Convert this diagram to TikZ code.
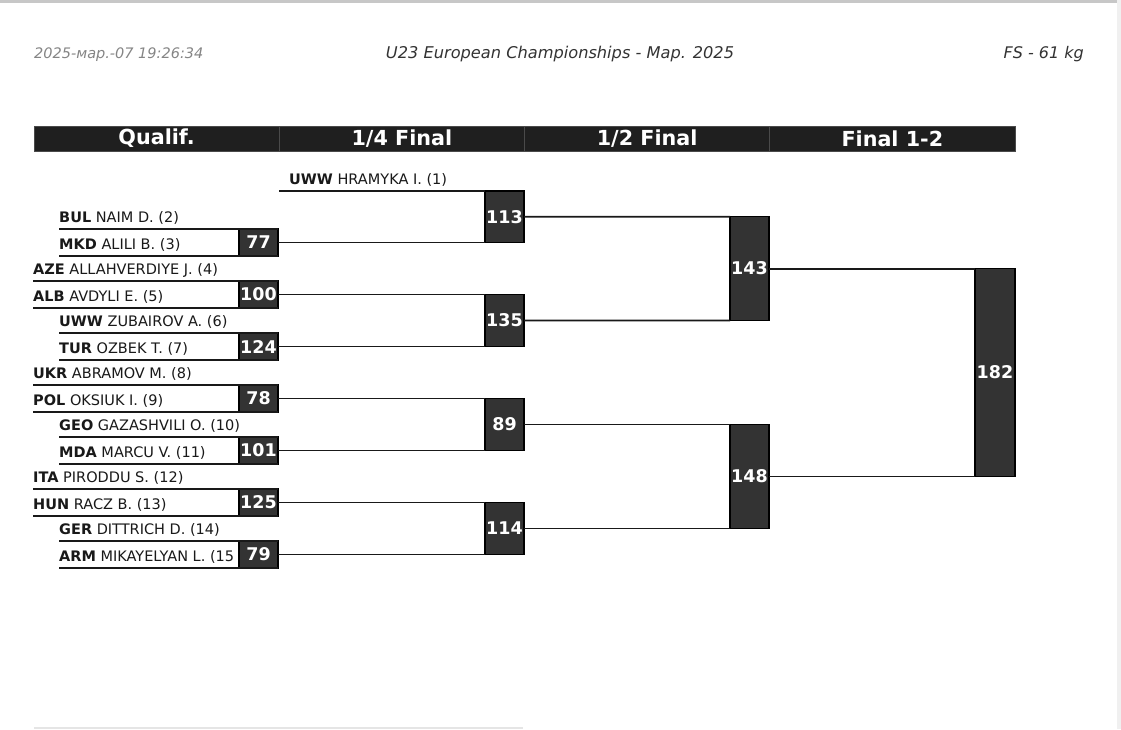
\documentclass[tikz,border=0pt]{standalone}
\usepackage{fontspec}
\setmainfont{DejaVu Sans}[ItalicFont={DejaVu Sans Oblique},BoldFont={DejaVu Sans Bold},BoldItalicFont={DejaVu Sans Bold Oblique}]
\usetikzlibrary{positioning}
\definecolor{barfill}{HTML}{1F1F1F}
\definecolor{barline}{HTML}{4A4A4A}
\definecolor{boxfill}{HTML}{333333}
\definecolor{stampgray}{HTML}{858585}
\definecolor{titlegray}{HTML}{333333}

\begin{document}
\begin{tikzpicture}[x=1pt,y=-1pt,
headcell/.style={fill=barfill, draw=barline, line width=0.8pt, minimum width=245.25pt, minimum height=25pt, inner sep=0pt, outer sep=0pt, text=white, font=\fontsize{20.7}{22}\selectfont\bfseries},
scorebox/.style={fill=boxfill, draw=black, line width=1.3pt, minimum width=39pt, inner sep=0pt, outer sep=0pt, text=white, font=\fontsize{17.5}{19}\selectfont\bfseries},
wrestler/.style={anchor=base west, inner sep=0pt, text=black!90, font=\fontsize{14.5}{17}\selectfont},
bline/.style={line width=1.8pt, draw=black!90}
]
    \fill[white] (0,0) rectangle (1121,729);
    \useasboundingbox (0,0) rectangle (1121,729);
    \fill[black!22] (0,0) rectangle (1121,2.5);
    \fill[black!6] (1116.5,0) rectangle (1121,729);
    \draw[black!10, line width=1.5pt] (34,728) -- (523,728);

    % page head
    \node[anchor=base west, inner sep=0pt, text=stampgray, font=\fontsize{14.5}{17}\selectfont\itshape] (stamp) at (34,58.5) {2025-мар.-07 19:26:34};
    \node[anchor=base, inner sep=0pt, text=titlegray, font=\fontsize{16.2}{18}\selectfont\itshape] (event) at (560,58.5) {U23 European Championships - Мар. 2025};
    \node[anchor=base east, inner sep=0pt, text=titlegray, font=\fontsize{16}{18}\selectfont\itshape] (weight) at (1084,58.5) {FS - 61 kg};

    \node[headcell] (hq) at (156.6,138.5) {Qualif.};
    \node[headcell, right=0pt of hq] (hqf) {1/4 Final};
    \node[headcell, right=0pt of hqf] (hsf) {1/2 Final};
    \node[headcell, right=0pt of hsf] (hfin) {Final 1-2};

    % start of each wrestler line
    \coordinate (a1) at (279,191);
    \coordinate (a2) at (59,229);   \coordinate (a3) at (59,256);
    \coordinate (a4) at (33,281);   \coordinate (a5) at (33,308);
    \coordinate (a6) at (59,333);   \coordinate (a7) at (59,360);
    \coordinate (a8) at (33,385);   \coordinate (a9) at (33,412);
    \coordinate (a10) at (59,437);  \coordinate (a11) at (59,464);
    \coordinate (a12) at (33,489);  \coordinate (a13) at (33,516);
    \coordinate (a14) at (59,541);  \coordinate (a15) at (59,568);

    \node[wrestler] (w1) at ([xshift=10pt,yshift=6.5pt]a1) {\textbf{UWW} HRAMYKA I. (1)};
    \node[wrestler] (w2) at ([yshift=6.5pt]a2) {\textbf{BUL} NAIM D. (2)};
    \node[wrestler] (w3) at ([yshift=6.5pt]a3) {\textbf{MKD} ALILI B. (3)};
    \node[wrestler] (w4) at ([yshift=6.5pt]a4) {\textbf{AZE} ALLAHVERDIYE J. (4)};
    \node[wrestler] (w5) at ([yshift=6.5pt]a5) {\textbf{ALB} AVDYLI E. (5)};
    \node[wrestler] (w6) at ([yshift=6.5pt]a6) {\textbf{UWW} ZUBAIROV A. (6)};
    \node[wrestler] (w7) at ([yshift=6.5pt]a7) {\textbf{TUR} OZBEK T. (7)};
    \node[wrestler] (w8) at ([yshift=6.5pt]a8) {\textbf{UKR} ABRAMOV M. (8)};
    \node[wrestler] (w9) at ([yshift=6.5pt]a9) {\textbf{POL} OKSIUK I. (9)};
    \node[wrestler] (w10) at ([yshift=6.5pt]a10) {\textbf{GEO} GAZASHVILI O. (10)};
    \node[wrestler] (w11) at ([yshift=6.5pt]a11) {\textbf{MDA} MARCU V. (11)};
    \node[wrestler] (w12) at ([yshift=6.5pt]a12) {\textbf{ITA} PIRODDU S. (12)};
    \node[wrestler] (w13) at ([yshift=6.5pt]a13) {\textbf{HUN} RACZ B. (13)};
    \node[wrestler] (w14) at ([yshift=6.5pt]a14) {\textbf{GER} DITTRICH D. (14)};
    \node[wrestler] (w15) at ([yshift=6.5pt]a15) {\textbf{ARM} MIKAYELYAN L. (15};

    % bouts
    \node[scorebox, minimum height=27pt] (q1) at (258.5,242.5) {77};
    \node[scorebox, minimum height=27pt] (q2) at (258.5,294.5) {100};
    \node[scorebox, minimum height=27pt] (q3) at (258.5,346.5) {124};
    \node[scorebox, minimum height=27pt] (q4) at (258.5,398.5) {78};
    \node[scorebox, minimum height=27pt] (q5) at (258.5,450.5) {101};
    \node[scorebox, minimum height=27pt] (q6) at (258.5,502.5) {125};
    \node[scorebox, minimum height=27pt] (q7) at (258.5,554.5) {79};

    \node[scorebox, minimum height=51.5pt] (f1) at (504.5,216.75) {113};
    \node[scorebox, minimum height=52pt] (f2) at (504.5,320.5) {135};
    \node[scorebox, minimum height=52pt] (f3) at (504.5,424.5) {89};
    \node[scorebox, minimum height=52pt] (f4) at (504.5,528.5) {114};

    \node[scorebox, minimum height=103.75pt] (s1) at (749.5,268.6) {143};
    \node[scorebox, minimum height=104pt] (s2) at (749.5,476.5) {148};

    \node[scorebox, minimum width=40pt, minimum height=207.9pt] (fin) at (995,372.55) {182};

    \draw[bline] (a1) -- (f1.north west);
    \draw[bline] (a2) -- (q1.north east);  \draw[bline] (a3) -- (q1.south east);
    \draw[bline] (a4) -- (q2.north east);  \draw[bline] (a5) -- (q2.south east);
    \draw[bline] (a6) -- (q3.north east);  \draw[bline] (a7) -- (q3.south east);
    \draw[bline] (a8) -- (q4.north east);  \draw[bline] (a9) -- (q4.south east);
    \draw[bline] (a10) -- (q5.north east); \draw[bline] (a11) -- (q5.south east);
    \draw[bline] (a12) -- (q6.north east); \draw[bline] (a13) -- (q6.south east);
    \draw[bline] (a14) -- (q7.north east); \draw[bline] (a15) -- (q7.south east);

    \draw[bline] (q1.east) -- (f1.south west);
    \draw[bline] (q2.east) -- (f2.north west);
    \draw[bline] (q3.east) -- (f2.south west);
    \draw[bline] (q4.east) -- (f3.north west);
    \draw[bline] (q5.east) -- (f3.south west);
    \draw[bline] (q6.east) -- (f4.north west);
    \draw[bline] (q7.east) -- (f4.south west);

    \draw[bline] (f1.east) -- (s1.north west);
    \draw[bline] (f2.east) -- (s1.south west);
    \draw[bline] (f3.east) -- (s2.north west);
    \draw[bline] (f4.east) -- (s2.south west);

    \draw[bline] (s1.east) -- (fin.north west);
    \draw[bline] (s2.east) -- (fin.south west);
\end{tikzpicture}
\end{document}
